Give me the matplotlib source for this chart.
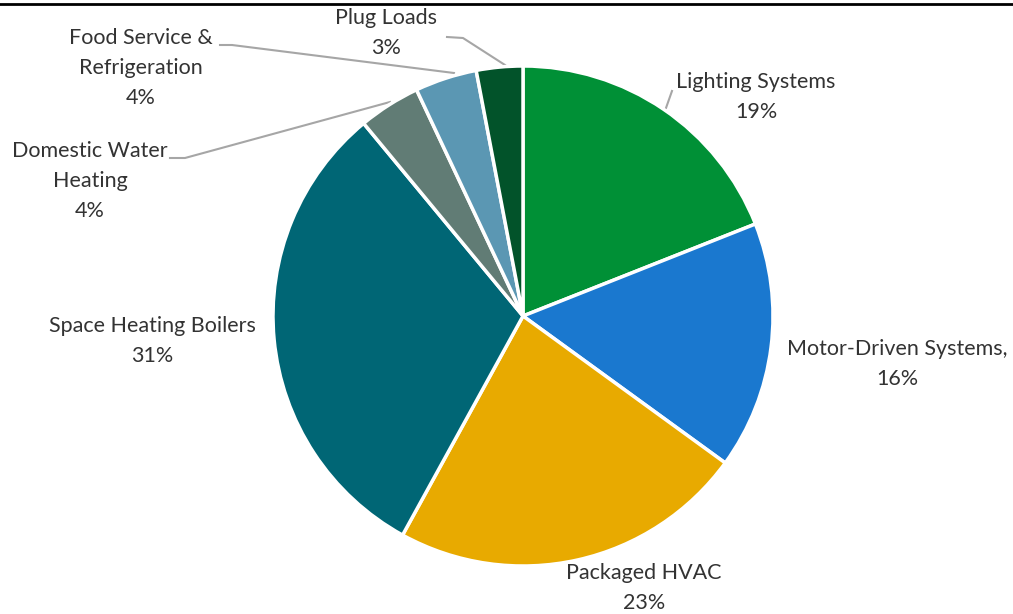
import matplotlib.pyplot as plt

# End-use shares of energy consumption (%)
categories = [
    "Lighting Systems",
    "Motor-Driven Systems,",
    "Packaged HVAC",
    "Space Heating Boilers",
    "Domestic Water\nHeating",
    "Food Service &\nRefrigeration",
    "Plug Loads",
]
shares = [19, 16, 23, 31, 4, 4, 3]
colors = ["#009036", "#1a78cf", "#e8aa00", "#006675", "#617c75", "#5b97b3", "#02532a"]

W, H = 1013, 614
fig = plt.figure(figsize=(W / 100, H / 100), dpi=100)
ax = fig.add_axes([0, 0, 1, 1])

plt.rcParams["font.family"] = "Lato"
text_color = "#333333"
line_color = "#a6a6a6"

cx, cy, r = 523, H - 316, 250
ax.pie(
    shares,
    colors=colors,
    startangle=90,
    counterclock=False,
    center=(cx, cy),
    radius=r,
    wedgeprops=dict(edgecolor="white", linewidth=2.5),
    frame=True,
)
ax.set_xlim(0, W)
ax.set_ylim(0, H)
ax.axis("off")

# label centres in pixel coordinates (x, y from top)
label_pos = [
    (756, 97),
    (897, 364),
    (644, 588),
    (152, 341),
    (90, 181),
    (141, 68),
    (386, 33),
]
for name, val, (x, y) in zip(categories, shares, label_pos):
    ax.text(x, H - y, f"{name}\n{val}%", ha="center", va="center",
            fontsize=15.5, color=text_color, linespacing=1.65)

# leader lines
leaders = [
    [(666, 108), (672, 91)],
    [(170, 158), (185, 158), (390, 102)],
    [(220, 45), (232, 45), (454, 73)],
    [(447, 37), (463, 38), (505, 65)],
]
for pts in leaders:
    xs = [p[0] for p in pts]
    ys = [H - p[1] for p in pts]
    ax.plot(xs, ys, color=line_color, linewidth=1.5, zorder=0)

# rule along the top edge
ax.plot([0, W], [H - 4, H - 4], color="black", linewidth=2)

fig.savefig("out.png", dpi=100)
